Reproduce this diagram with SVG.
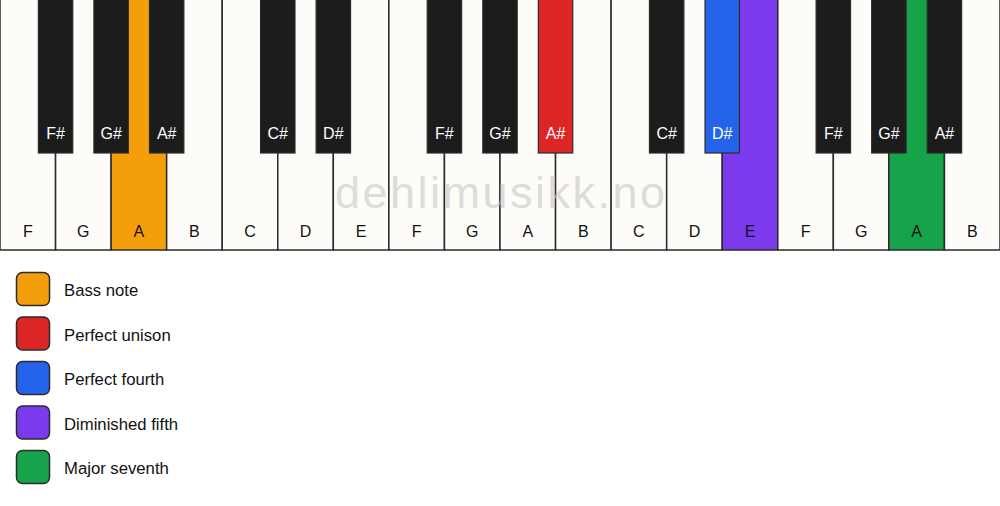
<svg xmlns="http://www.w3.org/2000/svg" width="1000" height="506" viewBox="0 0 1000 506">
<style>
.w{fill:#fdfcf8;stroke:#2b2b2b;stroke-width:1.5}
.b{fill:#1c1c1c;stroke:#2b2b2b;stroke-width:1.2}
.wl{font-family:"Liberation Sans",Arial,sans-serif;font-size:16px;fill:#111;text-anchor:middle}
.bl{font-family:"Liberation Sans",Arial,sans-serif;font-size:16px;fill:#fff;text-anchor:middle}
.lg{stroke:#2b2b2b;stroke-width:1.5}
.lt{font-family:"Liberation Sans",Arial,sans-serif;font-size:16.7px;fill:#111}
.wm{font-family:"Liberation Sans",Arial,sans-serif;font-size:45px;fill:#c8c8c8;opacity:0.6;text-anchor:middle}
</style>
<rect width="1000" height="506" fill="#ffffff"/>
<g id="white-keys">
<g id="wk-F1"><rect class="w" x="0" y="-2" width="55.56" height="252"/><text class="wl" x="27.78" y="237">F</text></g>
<g id="wk-G1"><rect class="w" x="55.56" y="-2" width="55.56" height="252"/><text class="wl" x="83.33" y="237">G</text></g>
<g id="wk-A1"><rect class="w" x="111.11" y="-2" width="55.56" height="252" style="fill:#f59e0b"/><text class="wl" x="138.89" y="237">A</text></g>
<g id="wk-B1"><rect class="w" x="166.67" y="-2" width="55.56" height="252"/><text class="wl" x="194.44" y="237">B</text></g>
<g id="wk-C1"><rect class="w" x="222.22" y="-2" width="55.56" height="252"/><text class="wl" x="250" y="237">C</text></g>
<g id="wk-D1"><rect class="w" x="277.78" y="-2" width="55.56" height="252"/><text class="wl" x="305.56" y="237">D</text></g>
<g id="wk-E1"><rect class="w" x="333.33" y="-2" width="55.56" height="252"/><text class="wl" x="361.11" y="237">E</text></g>
<g id="wk-F2"><rect class="w" x="388.89" y="-2" width="55.56" height="252"/><text class="wl" x="416.67" y="237">F</text></g>
<g id="wk-G2"><rect class="w" x="444.44" y="-2" width="55.56" height="252"/><text class="wl" x="472.22" y="237">G</text></g>
<g id="wk-A2"><rect class="w" x="500" y="-2" width="55.56" height="252"/><text class="wl" x="527.78" y="237">A</text></g>
<g id="wk-B2"><rect class="w" x="555.56" y="-2" width="55.56" height="252"/><text class="wl" x="583.33" y="237">B</text></g>
<g id="wk-C2"><rect class="w" x="611.11" y="-2" width="55.56" height="252"/><text class="wl" x="638.89" y="237">C</text></g>
<g id="wk-D2"><rect class="w" x="666.67" y="-2" width="55.56" height="252"/><text class="wl" x="694.44" y="237">D</text></g>
<g id="wk-E2"><rect class="w" x="722.22" y="-2" width="55.56" height="252" style="fill:#7c3aed"/><text class="wl" x="750" y="237">E</text></g>
<g id="wk-F3"><rect class="w" x="777.78" y="-2" width="55.56" height="252"/><text class="wl" x="805.56" y="237">F</text></g>
<g id="wk-G3"><rect class="w" x="833.33" y="-2" width="55.56" height="252"/><text class="wl" x="861.11" y="237">G</text></g>
<g id="wk-A3"><rect class="w" x="888.89" y="-2" width="55.56" height="252" style="fill:#16a34a"/><text class="wl" x="916.67" y="237">A</text></g>
<g id="wk-B3"><rect class="w" x="944.44" y="-2" width="55.56" height="252"/><text class="wl" x="972.22" y="237">B</text></g>
</g>
<text id="watermark" class="wm" x="500" y="208" textLength="330" lengthAdjust="spacing">dehlimusikk.no</text>
<g id="black-keys">
<g id="bk-Fs1"><rect class="b" x="38.36" y="-2" width="34.4" height="155"/><text class="bl" x="55.56" y="139">F#</text></g>
<g id="bk-Gs1"><rect class="b" x="93.91" y="-2" width="34.4" height="155"/><text class="bl" x="111.11" y="139">G#</text></g>
<g id="bk-As1"><rect class="b" x="149.47" y="-2" width="34.4" height="155"/><text class="bl" x="166.67" y="139">A#</text></g>
<g id="bk-Cs1"><rect class="b" x="260.58" y="-2" width="34.4" height="155"/><text class="bl" x="277.78" y="139">C#</text></g>
<g id="bk-Ds1"><rect class="b" x="316.13" y="-2" width="34.4" height="155"/><text class="bl" x="333.33" y="139">D#</text></g>
<g id="bk-Fs2"><rect class="b" x="427.24" y="-2" width="34.4" height="155"/><text class="bl" x="444.44" y="139">F#</text></g>
<g id="bk-Gs2"><rect class="b" x="482.8" y="-2" width="34.4" height="155"/><text class="bl" x="500" y="139">G#</text></g>
<g id="bk-As2"><rect class="b" x="538.36" y="-2" width="34.4" height="155" style="fill:#dc2626"/><text class="bl" x="555.56" y="139">A#</text></g>
<g id="bk-Cs2"><rect class="b" x="649.47" y="-2" width="34.4" height="155"/><text class="bl" x="666.67" y="139">C#</text></g>
<g id="bk-Ds2"><rect class="b" x="705.02" y="-2" width="34.4" height="155" style="fill:#2563eb"/><text class="bl" x="722.22" y="139">D#</text></g>
<g id="bk-Fs3"><rect class="b" x="816.13" y="-2" width="34.4" height="155"/><text class="bl" x="833.33" y="139">F#</text></g>
<g id="bk-Gs3"><rect class="b" x="871.69" y="-2" width="34.4" height="155"/><text class="bl" x="888.89" y="139">G#</text></g>
<g id="bk-As3"><rect class="b" x="927.24" y="-2" width="34.4" height="155"/><text class="bl" x="944.44" y="139">A#</text></g>
</g>
<g id="legend">
<g id="lg-bass"><rect class="lg" x="16.5" y="272.5" width="33" height="33" rx="6" fill="#f59e0b"/><text class="lt" x="64" y="296">Bass note</text></g>
<g id="lg-unison"><rect class="lg" x="16.5" y="317" width="33" height="33" rx="6" fill="#dc2626"/><text class="lt" x="64" y="340.5">Perfect unison</text></g>
<g id="lg-fourth"><rect class="lg" x="16.5" y="361.5" width="33" height="33" rx="6" fill="#2563eb"/><text class="lt" x="64" y="385">Perfect fourth</text></g>
<g id="lg-dim5"><rect class="lg" x="16.5" y="406" width="33" height="33" rx="6" fill="#7c3aed"/><text class="lt" x="64" y="429.5">Diminished fifth</text></g>
<g id="lg-maj7"><rect class="lg" x="16.5" y="450.5" width="33" height="33" rx="6" fill="#16a34a"/><text class="lt" x="64" y="474">Major seventh</text></g>
</g>
<g id="connectors"/>
</svg>
